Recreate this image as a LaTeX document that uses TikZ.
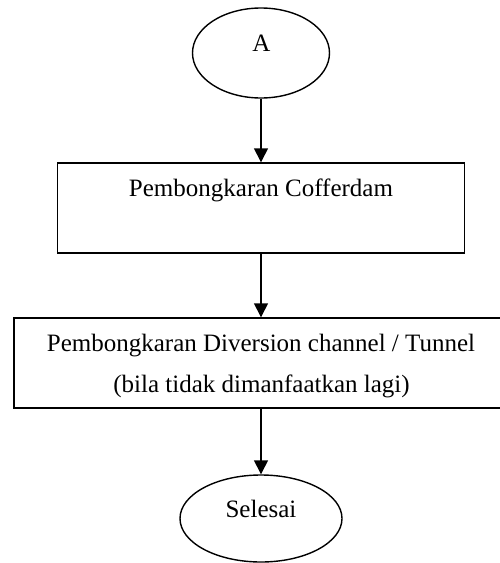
\documentclass[tikz,border=0pt]{standalone}
\usepackage{fontspec}
\setmainfont{Liberation Serif}
\usetikzlibrary{shapes.geometric,arrows.meta}
\begin{document}
\begin{tikzpicture}[x=1pt,y=-1pt,
  shp/.style={draw=black,line width=1.4pt,inner sep=0pt},
  oval/.style={shp,ellipse},
  box/.style={shp,rectangle},
  txt/.style={anchor=base,inner sep=0pt,font=\fontsize{25}{30}\selectfont},
  conn/.style={line width=1.4pt,-{Triangle[length=14pt,width=14pt]}}]
\clip (0,0) rectangle (500,563);
\fill[white] (0,0) rectangle (500,563);
% shapes
\node[oval,minimum width=137pt,minimum height=90pt] (a) at (261,53) {};
\node[box,minimum width=407pt,minimum height=90pt] (b1) at (261,208) {};
\node[box,minimum width=494pt,minimum height=90pt] (b2) at (261,363) {};
\node[oval,minimum width=162pt,minimum height=87pt] (s) at (261,518.5) {};
% texts
\node[txt] (ta) at (261.5,51.7) {A};
\node[txt] (tb1) at (261,196.7) {Pembongkaran Cofferdam};
\node[txt] (tb2a) at (261,351.7) {Pembongkaran Diversion channel / Tunnel};
\node[txt] (tb2b) at (261.5,392.5) {(bila tidak dimanfaatkan lagi)};
\node[txt] (ts) at (261,517) {Selesai};
% connectors
\draw[conn] (a.south) -- (b1.north);
\draw[conn] (b1.south) -- (b2.north);
\draw[conn] (b2.south) -- (s.north);
\end{tikzpicture}
\end{document}
